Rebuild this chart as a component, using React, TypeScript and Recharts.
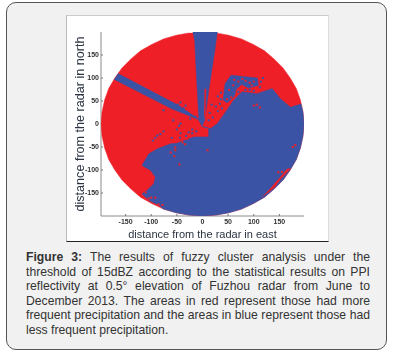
import { ComposedChart, Scatter, XAxis, YAxis } from "recharts";

type Pt = { x: number; y: number };

const TICKS = [-150, -100, -50, 0, 50, 100, 150];

// outline of the radar disc, read clockwise from the north
const discOutline: Pt[] = [
  { x: 0, y: 200 }, { x: 26, y: 198 }, { x: 51, y: 193 }, { x: 76, y: 185 }, { x: 99, y: 173 }, { x: 121, y: 159 },
  { x: 140, y: 141 }, { x: 157, y: 122 }, { x: 171, y: 100 }, { x: 183, y: 77 }, { x: 191, y: 52 }, { x: 196, y: 26 },
  { x: 198, y: 0 }, { x: 196, y: -26 }, { x: 191, y: -52 }, { x: 183, y: -77 }, { x: 171, y: -100 }, { x: 157, y: -122 },
  { x: 140, y: -141 }, { x: 121, y: -159 }, { x: 99, y: -173 }, { x: 76, y: -185 }, { x: 51, y: -193 }, { x: 26, y: -198 },
  { x: 0, y: -200 }, { x: -26, y: -198 }, { x: -51, y: -193 }, { x: -76, y: -185 }, { x: -99, y: -173 }, { x: -121, y: -159 },
  { x: -140, y: -141 }, { x: -157, y: -122 }, { x: -171, y: -100 }, { x: -183, y: -77 }, { x: -191, y: -52 }, { x: -196, y: -26 },
  { x: -198, y: 0 }, { x: -196, y: 26 }, { x: -191, y: 52 }, { x: -183, y: 77 }, { x: -171, y: 100 }, { x: -157, y: 122 },
  { x: -140, y: 141 }, { x: -121, y: 159 }, { x: -99, y: 173 }, { x: -76, y: 185 }, { x: -51, y: 193 }, { x: -26, y: 198 },
];

const blueMain: Pt[] = [
  { x: 192, y: 44 }, { x: 196, y: 26 }, { x: 198, y: 0 }, { x: 196, y: -26 }, { x: 191, y: -52 }, { x: 183, y: -77 },
  { x: 171, y: -100 }, { x: 157, y: -122 }, { x: 140, y: -141 }, { x: 121, y: -159 }, { x: 99, y: -173 }, { x: 76, y: -185 },
  { x: 51, y: -193 }, { x: 26, y: -198 }, { x: 0, y: -200 }, { x: -26, y: -198 }, { x: -51, y: -193 }, { x: -76, y: -185 },
  { x: -84, y: -177 }, { x: -103, y: -167 }, { x: -118, y: -152 }, { x: -109, y: -145 }, { x: -95, y: -130 }, { x: -92, y: -116 },
  { x: -101, y: -101 }, { x: -118, y: -90 }, { x: -105, y: -65 }, { x: -88, y: -54 }, { x: -62, y: -43 }, { x: -50, y: -42 },
  { x: -36, y: -36 }, { x: -17, y: -28 }, { x: 12, y: -28 }, { x: 12, y: -10 }, { x: -1, y: -5 },
  { x: 16, y: -10 }, { x: 29, y: 1 }, { x: 45, y: 26 }, { x: 61, y: 52 }, { x: 77, y: 70 },
  { x: 106, y: 66 }, { x: 136, y: 77 }, { x: 152, y: 55 }, { x: 171, y: 37 },
];

const blueNorth: Pt[] = [
  { x: -19, y: 200 }, { x: 29, y: 200 }, { x: 24, y: 160 }, { x: 13, y: 80 }, { x: 4, y: 8 },
  { x: -1, y: -5 }, { x: -7, y: 8 }, { x: -12, y: 110 }, { x: -15, y: 175 },
];

const blueWest: Pt[] = [
  { x: -164, y: 110 }, { x: -172, y: 97 }, { x: -60, y: 33 }, { x: -4, y: 8 }, { x: -50, y: 43 },
];

const blueNorthEast: Pt[] = [
  { x: 55, y: 106 }, { x: 107, y: 100 }, { x: 109, y: 84 }, { x: 90, y: 78 }, { x: 76, y: 86 },
  { x: 66, y: 76 }, { x: 62, y: 60 }, { x: 48, y: 46 }, { x: 40, y: 52 }, { x: 44, y: 88 },
];

const redNorthSliver: Pt[] = [
  { x: 4, y: 76 }, { x: 7, y: 76 }, { x: 5, y: 16 }, { x: 3, y: 16 },
];

const redEastSliver: Pt[] = [
  { x: 117, y: -158 }, { x: 140, y: -138 }, { x: 152, y: -120 }, { x: 172, y: -97 },
  { x: 165, y: -98 }, { x: 150, y: -118 }, { x: 135, y: -137 },
];

const blueSpecks: Pt[] = [
  { x: -43, y: 47 }, { x: -37, y: 34 }, { x: -76, y: 30 }, { x: -43, y: 1 }, { x: -76, y: -16 },
  { x: -97, y: -36 }, { x: -88, y: -25 }, { x: -57, y: 8 }, { x: -27, y: -18 }, { x: -43, y: -20 },
  { x: -48, y: 42 }, { x: -33, y: 40 }, { x: -82, y: -22 }, { x: -92, y: -30 }, { x: -20, y: -12 },
  { x: -30, y: 24 }, { x: -24, y: 12 }, { x: -14, y: 16 }, { x: -46, y: -4 }, { x: -50, y: -12 },
  { x: -60, y: -30 }, { x: -32, y: -26 }, { x: -20, y: -20 }, { x: -12, y: -16 }, { x: -44, y: -30 },
  { x: 36, y: 68 }, { x: 30, y: 60 }, { x: 18, y: 42 }, { x: 26, y: 38 }, { x: 14, y: 24 }, { x: 20, y: 14 },
  { x: 12, y: 8 }, { x: 36, y: 54 }, { x: 114, y: 92 }, { x: 118, y: 100 }, { x: 30, y: 28 },
  { x: 84, y: 74 }, { x: 92, y: 74 }, { x: 100, y: 72 }, { x: 112, y: 80 }, { x: 70, y: 70 }, { x: 34, y: 44 }, { x: 38, y: 34 },
];

const redSpecks: Pt[] = [
  { x: -62, y: -62 }, { x: -53, y: -57 }, { x: -39, y: -40 }, { x: -53, y: -51 }, { x: 10, y: -57 },
  { x: -55, y: -70 }, { x: -45, y: -88 }, { x: -111, y: -149 }, { x: -105, y: -162 }, { x: -92, y: -160 },
  { x: -86, y: -175 }, { x: -100, y: -160 }, { x: -78, y: -176 }, { x: -30, y: -32 }, { x: -34, y: -44 },
  { x: 52, y: 74 }, { x: 60, y: 84 }, { x: 56, y: 58 }, { x: 48, y: 54 }, { x: 38, y: 40 }, { x: 30, y: 22 },
  { x: 70, y: 92 }, { x: 84, y: 94 }, { x: 92, y: 90 }, { x: 100, y: 92 }, { x: 62, y: 96 }, { x: 78, y: 98 }, { x: 96, y: 84 },
  { x: 100, y: 40 }, { x: 106, y: 42 }, { x: 112, y: 36 }, { x: 181, y: -46 }, { x: 176, y: -50 },
  { x: 155, y: -104 }, { x: 148, y: -105 },
];

const RED = "#ee1f27";
const BLUE = "#3b53a4";

const noMarker = () => <g />;

const speck = (color: string) => (p: { cx?: number; cy?: number }) => (
  <rect x={(p.cx ?? 0) - 1} y={(p.cy ?? 0) - 1} width={2} height={2} fill={color} />
);

const fillLine = (color: string) => ({ fill: color, stroke: color, strokeWidth: 0.5 });

const axisTick = { fontSize: 7, fontFamily: "Liberation Sans", fontWeight: 700, fill: "#333" };
const axisLine = { stroke: "#8a8a8a", strokeWidth: 1 };
const tickLine = { stroke: "#777" };

export default function App() {
  return (
    <div style={{ position: "absolute", left: 0, top: 0, width: 394, height: 353, background: "#fff", overflow: "hidden" }}>
      <div style={{ position: "absolute", left: 6, top: 2, width: 379, height: 346, background: "#f1f1f1", border: "1.5px solid #555", borderRadius: 10 }} />
      <div style={{ position: "absolute", left: 66, top: 15, width: 263, height: 227, background: "#fff", borderLeft: "1px solid #bbb", borderTop: "1px solid #ccc", borderRight: "1px solid #ddd", borderBottom: "1px solid #222", boxSizing: "border-box" }} />
      <div style={{ position: "absolute", left: 66, top: 15, filter: "blur(0.35px)" }}>
        <ComposedChart width={263} height={226} margin={{ top: 17, right: 25, left: 0, bottom: 0 }}>
          <XAxis
            type="number" dataKey="x" domain={[-198, 198]} ticks={TICKS} interval={0} height={25}
            tick={axisTick} axisLine={axisLine} tickLine={tickLine} tickSize={-2} tickMargin={5}
            allowDataOverflow
            label={{ value: "distance from the radar in east", position: "insideBottom", offset: 3, fontSize: 11, fontFamily: "Liberation Sans", fill: "#2b3442" }}
          />
          <XAxis xAxisId="top" orientation="top" type="number" domain={[-198, 198]} ticks={TICKS} interval={0} height={0}
            tickFormatter={() => ""} axisLine={axisLine} tickLine={tickLine} tickSize={-2} allowDataOverflow />
          <YAxis
            type="number" dataKey="y" domain={[-200, 200]} ticks={TICKS} interval={0} width={35}
            tick={axisTick} axisLine={axisLine} tickLine={tickLine} tickSize={-2} tickMargin={4}
            allowDataOverflow
            label={{ value: "distance from the radar in north", angle: -90, position: "insideLeft", offset: 14, fontSize: 12.6, fontFamily: "Liberation Sans", fill: "#2b3442", style: { textAnchor: "middle" } }}
          />
          <YAxis yAxisId="right" orientation="right" type="number" domain={[-200, 200]} ticks={TICKS} interval={0} width={0}
            tickFormatter={() => ""} axisLine={axisLine} tickLine={tickLine} tickSize={-2} allowDataOverflow />
          <Scatter data={discOutline} line={fillLine(RED)} shape={noMarker} isAnimationActive={false} />
          <Scatter data={blueMain} line={fillLine(BLUE)} shape={noMarker} isAnimationActive={false} />
          <Scatter data={blueNorthEast} line={fillLine(BLUE)} shape={noMarker} isAnimationActive={false} />
          <Scatter data={blueNorth} line={fillLine(BLUE)} shape={noMarker} isAnimationActive={false} />
          <Scatter data={blueWest} line={fillLine(BLUE)} shape={noMarker} isAnimationActive={false} />
          <Scatter data={redNorthSliver} line={fillLine(RED)} shape={noMarker} isAnimationActive={false} />
          <Scatter data={redEastSliver} line={fillLine(RED)} shape={noMarker} isAnimationActive={false} />
          <Scatter data={blueSpecks} shape={speck(BLUE)} isAnimationActive={false} />
          <Scatter data={redSpecks} shape={speck(RED)} isAnimationActive={false} />
        </ComposedChart>
      </div>
      <div style={{ position: "absolute", left: 26, top: 250, width: 344, fontFamily: "Liberation Sans", fontSize: 12.2, lineHeight: "14.6px", color: "#333", textAlign: "justify" }}>
        <b>Figure 3:</b> The results of fuzzy cluster analysis under the threshold of 15dBZ according to the statistical results on PPI reflectivity at 0.5° elevation of Fuzhou radar from June to December 2013. The areas in red represent those had more frequent precipitation and the areas in blue represent those had less frequent precipitation.
      </div>
    </div>
  );
}
